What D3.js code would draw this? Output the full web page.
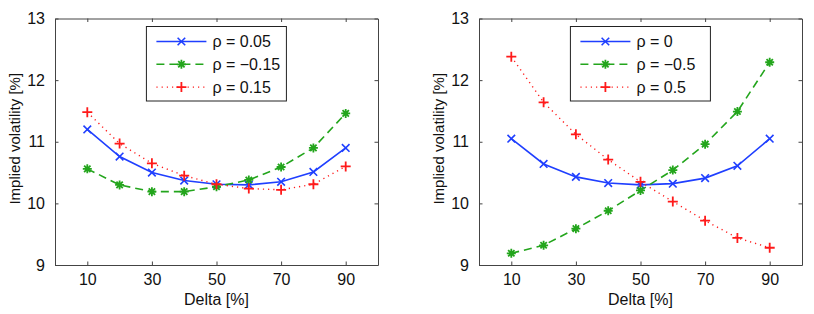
<!DOCTYPE html>
<html>
<head>
<meta charset="utf-8">
<script src="https://cdn.jsdelivr.net/npm/d3@7"></script>
<style>
  body { margin: 0; background: #fff; }
  svg { font-family: "Liberation Sans", Arial, Helvetica, sans-serif; }
</style>
</head>
<body>
<script>
var svgWidth = 814, svgHeight = 314;

// data
var delta = [10, 20, 30, 40, 50, 60, 70, 80, 90];
var xTicks = [10, 30, 50, 70, 90];
var yTicks = [9, 10, 11, 12, 13];

var leftBlue  = [11.20, 10.76, 10.50, 10.37, 10.31, 10.30, 10.35, 10.51, 10.90];
var leftGreen = [10.56, 10.30, 10.19, 10.19, 10.27, 10.38, 10.59, 10.90, 11.46];
var leftRed   = [11.48, 10.97, 10.65, 10.45, 10.31, 10.24, 10.22, 10.31, 10.60];
var leftNames = ["ρ = 0.05", "ρ = −0.15", "ρ = 0.15"];

var rightBlue  = [11.05, 10.64, 10.43, 10.33, 10.30, 10.32, 10.41, 10.61, 11.05];
var rightGreen = [9.19, 9.32, 9.59, 9.88, 10.21, 10.54, 10.96, 11.49, 12.29];
var rightRed   = [12.38, 11.64, 11.12, 10.71, 10.35, 10.03, 9.72, 9.44, 9.28];
var rightNames = ["ρ = 0", "ρ = −0.5", "ρ = 0.5"];

var blue = "#1f3fff", green = "#23a51c", red = "#ff1a1a";
var fs = "16px";

var svg = d3.select("body").append("svg")
    .attr("width", svgWidth)
    .attr("height", svgHeight);

function marker(g, type, color, x, y) {
    if (type == "x") {
        var s = 3.8;
        g.append("path")
            .attr("d", "M" + (x - s) + "," + (y - s) + "L" + (x + s) + "," + (y + s) +
                       "M" + (x - s) + "," + (y + s) + "L" + (x + s) + "," + (y - s))
            .attr("stroke", color).attr("stroke-width", 1.6).attr("fill", "none");
    } else if (type == "+") {
        var p = 5;
        g.append("path")
            .attr("d", "M" + (x - p) + "," + y + "L" + (x + p) + "," + y +
                       "M" + x + "," + (y - p) + "L" + x + "," + (y + p))
            .attr("stroke", color).attr("stroke-width", 1.8).attr("fill", "none");
    } else {
        // asterisk
        var r = 4.5, d = "";
        for (var k = 0; k < 4; k++) {
            var a = k * Math.PI / 4;
            d += "M" + (x - r * Math.cos(a)) + "," + (y - r * Math.sin(a)) +
                 "L" + (x + r * Math.cos(a)) + "," + (y + r * Math.sin(a));
        }
        g.append("path").attr("d", d)
            .attr("stroke", color).attr("stroke-width", 1.8).attr("fill", "none");
    }
}

function drawPanel(left, series, names) {
    var top = 18.5, bottom = 265, right = left + 323;
    var g = svg.append("g");

    var x = d3.scaleLinear().domain([0, 100]).range([left, right]);
    var y = d3.scaleLinear().domain([9, 13]).range([bottom, top]);

    var styles = [
        {color: blue, dash: null, w: 1.6, m: "x"},
        {color: green, dash: "8,5", w: 1.6, m: "*"},
        {color: red, dash: "1.2,4", w: 1.4, m: "+"}
    ];

    var line = d3.line()
        .x(function(d, i) { return x(delta[i]); })
        .y(function(d) { return y(d); });

    series.forEach(function(vals, si) {
        var st = styles[si];
        g.append("path")
            .datum(vals)
            .attr("d", line)
            .attr("fill", "none")
            .attr("stroke", st.color)
            .attr("stroke-width", st.w)
            .attr("stroke-dasharray", st.dash);
    });
    // markers on top
    series.forEach(function(vals, si) {
        var st = styles[si];
        vals.forEach(function(v, i) { marker(g, st.m, st.color, x(delta[i]), y(v)); });
    });

    // axes box with inward ticks on all sides
    var tl = 3.5;
    g.append("g").attr("transform", "translate(0," + bottom + ")")
        .call(d3.axisBottom(x).tickValues(xTicks).tickSize(-tl).tickPadding(9).tickSizeOuter(0));
    g.append("g").attr("transform", "translate(0," + top + ")")
        .call(d3.axisTop(x).tickValues(xTicks).tickSize(-tl).tickFormat("").tickSizeOuter(0));
    g.append("g").attr("transform", "translate(" + left + ",0)")
        .call(d3.axisLeft(y).tickValues(yTicks).tickFormat(d3.format("d")).tickSize(-tl).tickPadding(10).tickSizeOuter(0));
    g.append("g").attr("transform", "translate(" + right + ",0)")
        .call(d3.axisRight(y).tickValues(yTicks).tickSize(-tl).tickFormat("").tickSizeOuter(0));
    g.selectAll(".domain").attr("stroke", "#444").attr("stroke-width", 1);
    g.selectAll(".tick line").attr("stroke", "#444");
    g.selectAll(".tick text").attr("font-size", fs).attr("fill", "#111")
        .attr("font-family", "'Liberation Sans', Arial, sans-serif");

    g.append("text")
        .attr("x", (left + right) / 2).attr("y", 305)
        .attr("text-anchor", "middle").attr("font-size", fs).attr("fill", "#111")
        .text("Delta [%]");
    g.append("text")
        .attr("transform", "translate(" + (left - 35) + "," + ((top + bottom) / 2 - 3) + ") rotate(-90)")
        .attr("text-anchor", "middle").attr("font-size", "15px").attr("fill", "#111")
        .text("Implied volatility [%]");

    // legend
    var lx = x(28.3), ly = 26.5, lw = 140, lh = 74.5;
    var leg = g.append("g");
    leg.append("rect").attr("x", lx).attr("y", ly).attr("width", lw).attr("height", lh)
        .attr("fill", "#fff").attr("stroke", "#222").attr("stroke-width", 1);
    names.forEach(function(name, i) {
        var st = styles[i];
        var ry = ly + 15 + i * 22.8;
        leg.append("line")
            .attr("x1", lx + 10).attr("x2", lx + 60).attr("y1", ry).attr("y2", ry)
            .attr("stroke", st.color).attr("stroke-width", st.w)
            .attr("stroke-dasharray", st.dash);
        marker(leg, st.m, st.color, lx + 35, ry);
        leg.append("text")
            .attr("x", lx + 66).attr("y", ry + 5.5)
            .attr("font-size", fs).attr("fill", "#111")
            .text(name);
    });
}

drawPanel(55, [leftBlue, leftGreen, leftRed], leftNames);
drawPanel(479, [rightBlue, rightGreen, rightRed], rightNames);
</script>
</body>
</html>
